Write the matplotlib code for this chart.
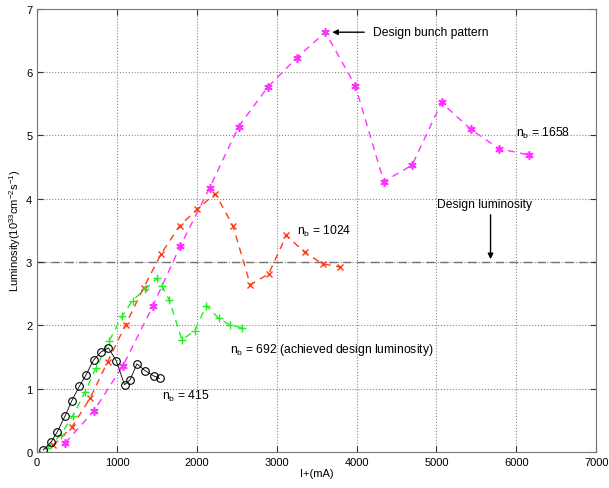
import numpy as np
import matplotlib
matplotlib.use('Agg')
import matplotlib.pyplot as plt

plt.rcParams['font.family'] = ['Liberation Sans', 'DejaVu Sans']
plt.rcParams['mathtext.fontset'] = 'custom'
plt.rcParams['mathtext.rm'] = 'Liberation Sans'
plt.rcParams['mathtext.it'] = 'Liberation Sans'

# n_b = 415 (black circles)
x415 = [79, 172, 254, 351, 435, 530, 614, 706, 802, 893, 990, 1094, 1165, 1249, 1353, 1457, 1533]
y415 = [0.03, 0.15, 0.32, 0.57, 0.81, 1.04, 1.22, 1.45, 1.58, 1.64, 1.44, 1.06, 1.14, 1.39, 1.28, 1.20, 1.16]

# n_b = 692 (green plus)
x692 = [129, 297, 447, 602, 739, 902, 1061, 1194, 1353, 1500, 1563, 1654, 1813, 1971, 2118, 2272, 2419, 2565]
y692 = [0.06, 0.27, 0.57, 0.95, 1.33, 1.75, 2.14, 2.39, 2.57, 2.74, 2.62, 2.40, 1.77, 1.91, 2.31, 2.11, 2.00, 1.96]

# n_b = 1024 (red x)
x1024 = [197, 435, 664, 881, 1109, 1332, 1554, 1783, 2001, 2231, 2452, 2669, 2898, 3120, 3350, 3575, 3797]
y1024 = [0.10, 0.39, 0.85, 1.42, 2.01, 2.59, 3.13, 3.57, 3.83, 4.08, 3.57, 2.64, 2.81, 3.42, 3.15, 2.97, 2.92]

# n_b = 1658 (magenta asterisk)
x1658 = [351, 706, 1074, 1447, 1792, 2159, 2523, 2886, 3254, 3609, 3985, 4340, 4695, 5063, 5426, 5781, 6157]
y1658 = [0.14, 0.64, 1.36, 2.30, 3.25, 4.17, 5.14, 5.76, 6.23, 6.63, 5.78, 4.27, 4.53, 5.52, 5.10, 4.79, 4.69]

design_lum = 3.0

fig = plt.figure(figsize=(6.09, 4.89), dpi=100)
ax = fig.add_axes([0.061, 0.074, 0.918, 0.906])

ax.axhline(design_lum, color='#666666', ls=(0, (6, 4)), lw=1.0, zorder=1)

ax.plot(x1658, y1658, ls=(0, (5, 4)), color='#ff33ff', marker=(6, 2, 0), ms=6, mew=1.2, lw=1.0)
ax.plot(x1024, y1024, ls=(0, (5, 4)), color='#ff3c14', marker='x', ms=5, lw=1.0)
ax.plot(x692, y692, ls=(0, (5, 4)), color='#22ee22', marker='+', ms=6, lw=1.0)
ax.plot(x415, y415, ls='-', color='black', marker='o', mfc='none', ms=5.5, mew=0.8, lw=0.6)

ax.set_xlim(0, 7000)
ax.set_ylim(0, 7)
ax.set_xticks(np.arange(0, 7001, 1000))
ax.set_yticks(np.arange(0, 8, 1))
ax.grid(True, ls=':', color='#888888', lw=0.8)
ax.tick_params(direction='in', top=True, right=True, labelsize=8, length=4, color='#333333')
for s in ax.spines.values():
    s.set_color('#777777')

ax.set_xlabel('I+(mA)', fontsize=8, labelpad=1)
ax.set_ylabel('Luminosity(10$^{33}$cm$^{-2}$s$^{-1}$)', fontsize=8, labelpad=2)

fs = 8.7
ax.annotate('', xy=(3660, 6.63), xytext=(4130, 6.63),
            arrowprops=dict(arrowstyle='-|>', color='black', lw=1, mutation_scale=8))
ax.text(4200, 6.63, 'Design bunch pattern', fontsize=fs, va='center', ha='left')

ax.annotate('', xy=(5677, 3.0), xytext=(5677, 3.79),
            arrowprops=dict(arrowstyle='-|>', color='black', lw=1, mutation_scale=8))
ax.text(5600, 3.92, 'Design luminosity', fontsize=fs, va='center', ha='center')

ax.text(5990, 5.05, '$n_b$ = 1658', fontsize=fs, va='center', ha='left')
ax.text(3250, 3.50, '$n_b$ = 1024', fontsize=fs, va='center', ha='left')
ax.text(2420, 1.62, '$n_b$ = 692 (achieved design luminosity)', fontsize=fs, va='center', ha='left')
ax.text(1560, 0.89, '$n_b$ = 415', fontsize=fs, va='center', ha='left')

fig.savefig('out.png', dpi=100)
